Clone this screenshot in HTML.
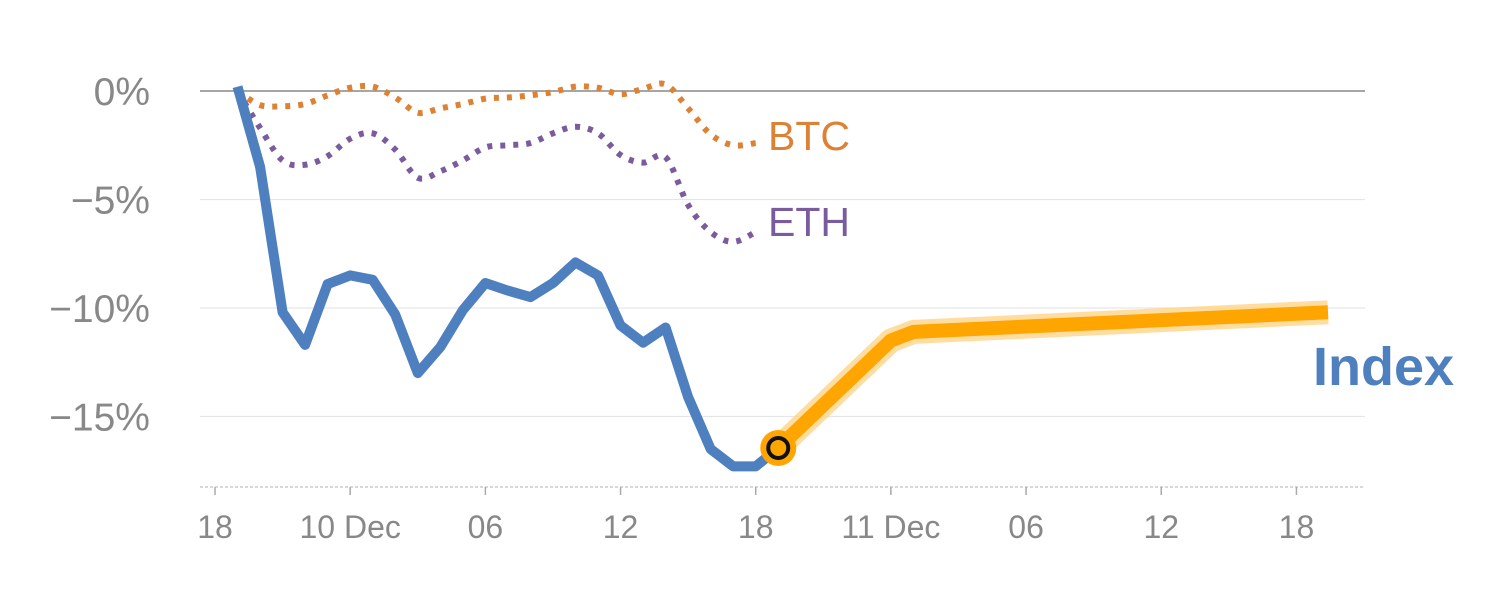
<!DOCTYPE html>
<html><head><meta charset="utf-8"><style>
html,body{margin:0;padding:0;background:#fff}
svg{display:block;font-family:"Liberation Sans",Arial,sans-serif}
</style></head><body>
<svg id="chart" width="1500" height="600"></svg>
<script>
const yTicks=[0,-5,-10,-15];
const yTickLabels=["0%","−5%","−10%","−15%"];
const xTickHours=[0,6,12,18,24,30,36,42,48];
const xTickLabels=["18","10 Dec","06","12","18","11 Dec","06","12","18"];
const indexHours=[1,2,3,4,5,6,7,8,9,10,11,12,13,14,15,16,17,18,19,20,21,22,23,24,25];
const indexValues=[0.2,-3.5,-10.2,-11.7,-8.9,-8.5,-8.7,-10.3,-13.0,-11.8,-10.1,-8.85,-9.2,-9.5,-8.85,-7.9,-8.5,-10.8,-11.6,-10.9,-14.1,-16.5,-17.3,-17.3,-16.45];
const forecastHours=[25,30,31,49.4];
const forecastValues=[-16.45,-11.5,-11.1,-10.2];
const btcHours=[1,2,3,4,5,6,7,8,9,10,11,12,13,14,15,16,17,18,19,20,21,22,23,24];
const btcValues=[0,-0.65,-0.7,-0.6,-0.2,0.15,0.2,-0.3,-1.0,-0.8,-0.6,-0.35,-0.3,-0.2,-0.05,0.2,0.15,-0.15,0.1,0.3,-0.8,-2.0,-2.5,-2.4];
const ethValues=[0,-1.7,-3.2,-3.4,-3.0,-2.2,-1.95,-2.7,-4.0,-3.7,-3.2,-2.6,-2.5,-2.4,-1.95,-1.65,-1.95,-2.95,-3.3,-3.05,-5.25,-6.5,-6.95,-6.5];

const NS="http://www.w3.org/2000/svg";
const svg=document.getElementById('chart');
const X=h=>215+h*22.53;
const Y=v=>91-v*21.7;
function mk(tag,attrs){const e=document.createElementNS(NS,tag);for(const k in attrs)e.setAttribute(k,attrs[k]);svg.appendChild(e);return e;}
function straight(hs,vs){return hs.map((h,i)=>(i?'L':'M')+X(h).toFixed(1)+','+Y(vs[i]).toFixed(1)).join('');}
function smooth(hs,vs){const p=hs.map((h,i)=>[X(h),Y(vs[i])]);let d='M'+p[0];for(let i=0;i<p.length-1;i++){const p0=p[i-1]||p[i],p1=p[i],p2=p[i+1],p3=p[i+2]||p2;const c1=[p1[0]+(p2[0]-p0[0])/6,p1[1]+(p2[1]-p0[1])/6],c2=[p2[0]-(p3[0]-p1[0])/6,p2[1]-(p3[1]-p1[1])/6];d+='C'+c1+' '+c2+' '+p2;}return d;}

yTicks.forEach((t,i)=>{
  const g=mk('line',{x1:200,x2:1365,y1:Y(t),y2:Y(t),stroke:t===0?'#888':'#e6e6e6','stroke-width':t===0?1.5:1.2});
  
  
  const tx=mk('text',{x:150,y:Y(t)+14,'text-anchor':'end','font-size':39,fill:'#888'});
  tx.textContent=yTickLabels[i];
  
  
});
const ax=mk('line',{x1:200,x2:1365,y1:487,y2:487,stroke:'#ccc','stroke-width':1.5,'stroke-dasharray':'3,2'});


xTickHours.forEach((h,i)=>{
  const l=mk('line',{x1:X(h),x2:X(h),y1:487,y2:495,stroke:'#aaa','stroke-width':1.5});
  
  
  const t=mk('text',{x:X(h),y:538,'text-anchor':'middle','font-size':32,fill:'#888'});
  t.textContent=xTickLabels[i];
  
  
});
const btc=mk('path',{d:smooth(btcHours,btcValues),fill:'none',stroke:'#dd8235','stroke-width':6,'stroke-dasharray':'5,8','stroke-linecap':'butt'});


const eth=mk('path',{d:smooth(btcHours,ethValues),fill:'none',stroke:'#7a5c9e','stroke-width':6,'stroke-dasharray':'5,8'});


const idx=mk('path',{d:straight(indexHours,indexValues),fill:'none',stroke:'#4e7fbf','stroke-width':10,'stroke-linejoin':'round'});


const glow=mk('path',{d:straight(forecastHours,forecastValues),fill:'none',stroke:'#ffd48a','stroke-width':24,'stroke-linejoin':'round','opacity':0.8});


const fc=mk('path',{d:straight(forecastHours,forecastValues),fill:'none',stroke:'#ffa500','stroke-width':14,'stroke-linejoin':'round'});


const m1=mk('circle',{cx:X(forecastHours[0]),cy:Y(forecastValues[0]),r:18,fill:'#ffa500'});


const m2=mk('circle',{cx:X(forecastHours[0]),cy:Y(forecastValues[0]),r:10,fill:'#ffa500',stroke:'#111','stroke-width':4});


const lb=mk('text',{x:768,y:150,'font-size':41,fill:'#dd8235'});lb.textContent='BTC';


const le=mk('text',{x:768,y:236,'font-size':41,fill:'#7a5c9e'});le.textContent='ETH';


const li=mk('text',{x:1313,y:385,'font-size':54,'font-weight':'bold',fill:'#4e7fbf'});li.textContent='Index';


</script>
</body></html>
